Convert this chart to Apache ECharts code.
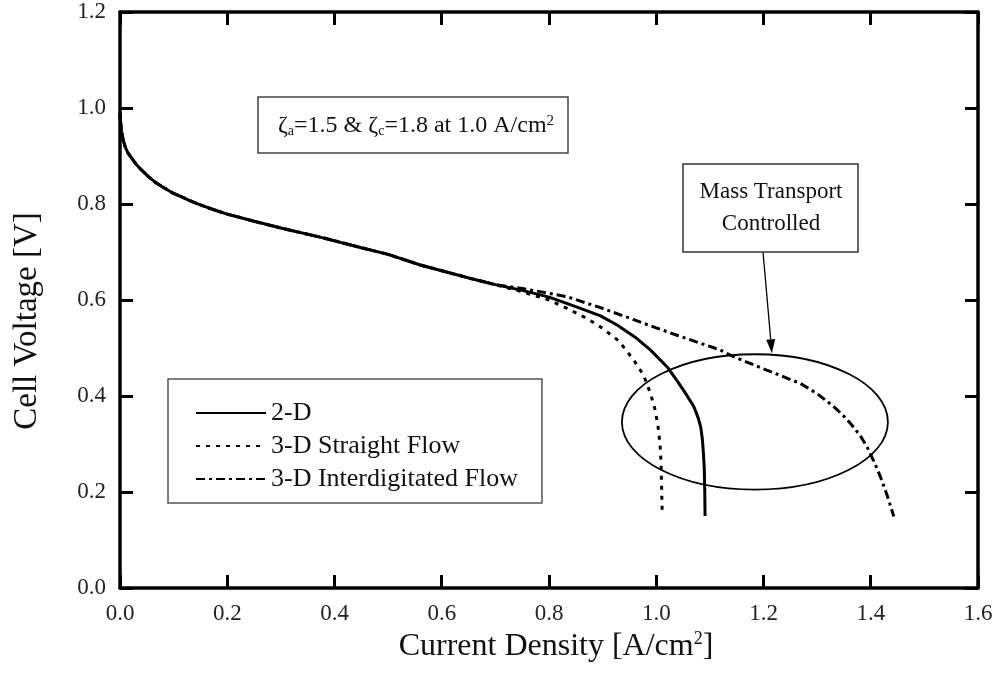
<!DOCTYPE html>
<html>
<head>
<meta charset="utf-8">
<script src="https://cdn.jsdelivr.net/npm/echarts@6/dist/echarts.min.js"></script>
<style>
html,body{margin:0;padding:0;background:#fff;}
#chart{width:1000px;height:677px;}
</style>
</head>
<body>
<div id="chart"></div>
<script>
// ---- Data ----
const seriesNames = ['2-D', '3-D Straight Flow', '3-D Interdigitated Flow'];

// common low-current part shared by all three curves
const commonX = [0.000, 0.001, 0.003, 0.006, 0.010, 0.015, 0.022, 0.030, 0.040, 0.053, 0.065, 0.080, 0.100, 0.115, 0.130, 0.150, 0.175, 0.200, 0.250, 0.300, 0.373, 0.450, 0.500, 0.560, 0.600, 0.650, 0.700];
const commonY = [0.990, 0.972, 0.950, 0.933, 0.918, 0.906, 0.895, 0.883, 0.871, 0.857, 0.846, 0.835, 0.822, 0.815, 0.807, 0.798, 0.788, 0.779, 0.764, 0.750, 0.731, 0.709, 0.695, 0.673, 0.661, 0.646, 0.632];

const twoDX = [0.750, 0.800, 0.833, 0.870, 0.896, 0.927, 0.960, 0.989, 1.020, 1.040, 1.055, 1.070, 1.078, 1.083, 1.086, 1.088, 1.0895, 1.0905, 1.091];
const twoDY = [0.620, 0.606, 0.593, 0.578, 0.567, 0.548, 0.523, 0.496, 0.461, 0.430, 0.405, 0.378, 0.355, 0.335, 0.310, 0.280, 0.250, 0.200, 0.150];

const straightX = [0.750, 0.800, 0.833, 0.870, 0.896, 0.930, 0.958, 0.976, 0.989, 0.997, 1.003, 1.007, 1.009, 1.010, 1.011];
const straightY = [0.617, 0.600, 0.583, 0.562, 0.544, 0.515, 0.475, 0.444, 0.406, 0.375, 0.340, 0.300, 0.260, 0.210, 0.160];

const interX = [0.750, 0.800, 0.833, 0.896, 0.958, 1.000, 1.040, 1.082, 1.119, 1.144, 1.206, 1.269, 1.300, 1.331, 1.350, 1.362, 1.380, 1.393, 1.405, 1.418, 1.430, 1.443];
const interY = [0.624, 0.614, 0.607, 0.584, 0.559, 0.542, 0.526, 0.510, 0.496, 0.482, 0.454, 0.426, 0.405, 0.378, 0.358, 0.343, 0.318, 0.294, 0.266, 0.232, 0.195, 0.149];

const xTickLabels = ['0.0','0.2','0.4','0.6','0.8','1.0','1.2','1.4','1.6'];
const yTickLabels = ['0.0','0.2','0.4','0.6','0.8','1.0','1.2'];

// annotation ellipse (data units): centre and radii
const ellipseCenter = [1.184, 0.346];
const ellipseRadii = [0.248, 0.141];

function pairs(xs, ys){ return xs.map((x,i)=>[x, ys[i]]); }
const d2 = pairs(commonX.concat(twoDX), commonY.concat(twoDY));
const dS = pairs(commonX.concat(straightX), commonY.concat(straightY));
const dI = pairs(commonX.concat(interX), commonY.concat(interY));

const FONT = 'Liberation Serif';
const chart = echarts.init(document.getElementById('chart'), null, {renderer:'canvas'});

const axisLineStyle = {color:'#000', width:3.5};
const tickStyle = {color:'#000', width:3};

const option = {
  animation:false,
  backgroundColor:'#fff',
  grid:{left:120, right:22, top:12, bottom:89, containLabel:false},
  legend:{
    orient:'vertical', left:168, top:379,
    padding:[21, 24, 11, 27],
    itemWidth:70, itemHeight:16, itemGap:7,
    borderColor:'#555', borderWidth:1.5, backgroundColor:'#fff',
    itemStyle:{opacity:0, borderWidth:0},
    textStyle:{fontFamily:FONT, fontSize:26, color:'#111'},
    data:seriesNames
  },
  xAxis:[{
    type:'value', min:0, max:1.6, interval:0.2, position:'bottom',
    axisLine:{show:true, onZero:false, lineStyle:axisLineStyle},
    axisTick:{show:true, inside:true, length:13, lineStyle:tickStyle},
    splitLine:{show:false},
    axisLabel:{margin:14, fontFamily:FONT, fontSize:23, color:'#222',
      formatter:(v)=>xTickLabels[Math.round(v/0.2)]},
    name:'Current Density [A/cm{sup|2}]', nameLocation:'middle', nameGap:30,
    nameTextStyle:{fontFamily:FONT, fontSize:32, color:'#111', padding:[0,0,0,14],
      rich:{sup:{fontFamily:FONT, fontSize:18, color:'#111', verticalAlign:'top', lineHeight:34, padding:[0,0,18,0]}}}
  },{
    type:'value', min:0, max:1.6, interval:0.2, position:'top',
    axisLine:{show:true, onZero:false, lineStyle:axisLineStyle},
    axisTick:{show:true, inside:true, length:13, lineStyle:tickStyle},
    splitLine:{show:false}, axisLabel:{show:false}
  }],
  yAxis:[{
    type:'value', min:0, max:1.2, interval:0.2, position:'left',
    axisLine:{show:true, onZero:false, lineStyle:axisLineStyle},
    axisTick:{show:true, inside:true, length:13, lineStyle:tickStyle},
    splitLine:{show:false},
    axisLabel:{margin:14, fontFamily:FONT, fontSize:23, color:'#222',
      formatter:(v)=>yTickLabels[Math.round(v/0.2)]},
    name:'Cell Voltage [V]', nameLocation:'middle', nameGap:76, nameRotate:90,
    nameTextStyle:{fontFamily:FONT, fontSize:33, color:'#111', padding:[0,42,0,0]}
  },{
    type:'value', min:0, max:1.2, interval:0.2, position:'right',
    axisLine:{show:true, onZero:false, lineStyle:axisLineStyle},
    axisTick:{show:true, inside:true, length:13, lineStyle:tickStyle},
    splitLine:{show:false}, axisLabel:{show:false}
  }],
  series:[
    {name:seriesNames[0], type:'line', data:d2, showSymbol:false, symbol:'none', smooth:false,
      lineStyle:{color:'#000', width:3, type:'solid'}, itemStyle:{color:'#000'}, z:3},
    {name:seriesNames[1], type:'line', data:dS, showSymbol:false, symbol:'none', smooth:false,
      lineStyle:{color:'#000', width:3, type:[4,6]}, itemStyle:{color:'#000'}, z:2},
    {name:seriesNames[2], type:'line', data:dI, showSymbol:false, symbol:'none', smooth:false,
      lineStyle:{color:'#000', width:3, type:[9,4,3,4]}, itemStyle:{color:'#000'}, z:2}
  ]
};
chart.setOption(option);

// ---- annotations ----
const c = chart.convertToPixel({xAxisIndex:0, yAxisIndex:0}, ellipseCenter);
const e1 = chart.convertToPixel({xAxisIndex:0, yAxisIndex:0}, [ellipseCenter[0]+ellipseRadii[0], ellipseCenter[1]+ellipseRadii[1]]);
const rx = Math.abs(e1[0]-c[0]), ry = Math.abs(e1[1]-c[1]);

// arrow from the "Mass Transport" box to the top of the ellipse
const arrowStart = [763, 252];
const arrowTip = [c[0]+17, c[1]-ry-1];
const ang = Math.atan2(arrowTip[1]-arrowStart[1], arrowTip[0]-arrowStart[0]);
const hl = 14, hw = 4.5;
const base = [arrowTip[0]-hl*Math.cos(ang), arrowTip[1]-hl*Math.sin(ang)];
const head = [
  arrowTip,
  [base[0]+hw*Math.sin(ang), base[1]-hw*Math.cos(ang)],
  [base[0]-hw*Math.sin(ang), base[1]+hw*Math.cos(ang)]
];

chart.setOption({
  graphic:[
    {type:'ellipse', shape:{cx:c[0], cy:c[1], rx:rx, ry:ry},
      style:{fill:'none', stroke:'#000', lineWidth:1.8}, z:10},
    {type:'line', shape:{x1:arrowStart[0], y1:arrowStart[1], x2:base[0], y2:base[1]},
      style:{stroke:'#000', lineWidth:1.3}, z:10},
    {type:'polygon', shape:{points:head}, style:{fill:'#000'}, z:10},
    // Mass transport box
    {type:'rect', shape:{x:683, y:164, width:175, height:88},
      style:{fill:'#fff', stroke:'#333', lineWidth:1.5}, z:10},
    {type:'text', x:771, y:208, z:11,
      style:{text:'Mass Transport\nControlled', font:'23px "Liberation Serif"', fill:'#111',
        align:'center', verticalAlign:'middle', lineHeight:32}},
    // conditions box
    {type:'rect', shape:{x:258, y:97, width:310, height:56},
      style:{fill:'#fff', stroke:'#444', lineWidth:1.5}, z:10},
    {type:'text', x:416, y:126, z:11,
      style:{
        text:'ζ{sub|a}=1.5 & ζ{sub|c}=1.8 at 1.0 A/cm{sup|2}',
        font:'24px "Liberation Serif"', fill:'#111', align:'center', verticalAlign:'middle',
        rich:{
          sub:{fontFamily:FONT, fontSize:14, fill:'#111', verticalAlign:'bottom', lineHeight:14, padding:[0,0,0,0]},
          sup:{fontFamily:FONT, fontSize:15, fill:'#111', verticalAlign:'top', lineHeight:15}
        }
      }}
  ]
});
</script>
</body>
</html>
